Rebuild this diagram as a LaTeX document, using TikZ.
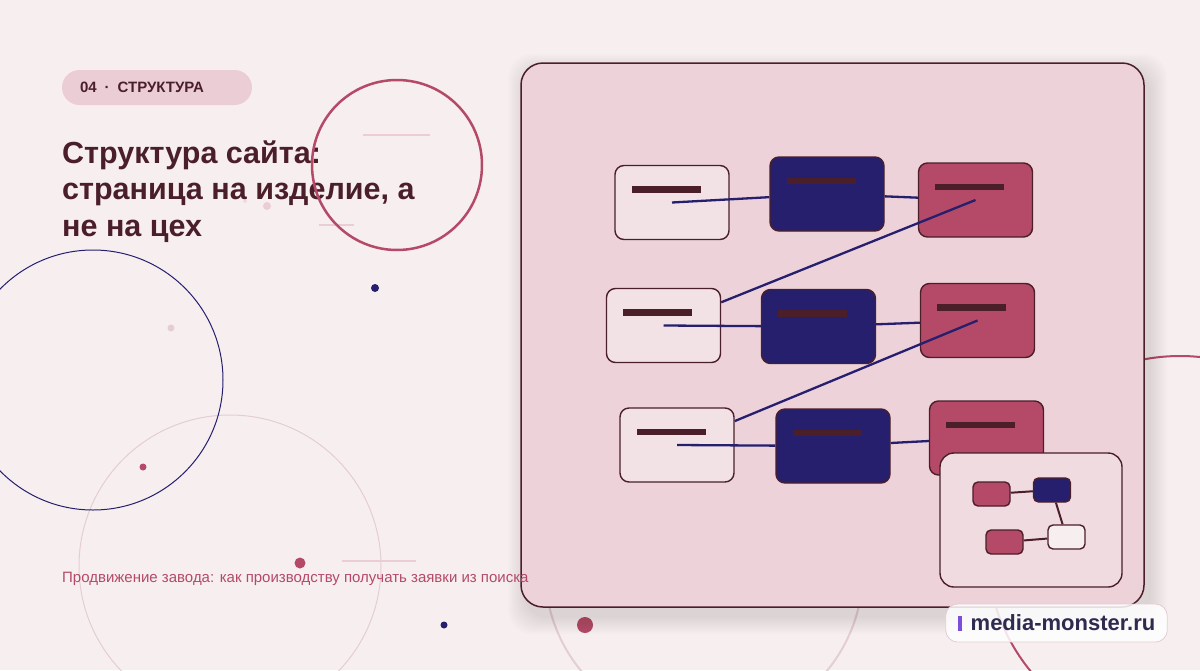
\documentclass[tikz,border=0pt]{standalone}
\usepackage{fontspec}
\setmainfont{Liberation Sans}
\usetikzlibrary{positioning,calc}
\definecolor{colorbg}     {RGB}{247,238,240}
\definecolor{colorcard}   {RGB}{237,210,218}
\definecolor{colorbadge}  {RGB}{235,205,213}
\definecolor{colordark}   {RGB}{ 74, 31, 42}
\definecolor{colornavy}   {RGB}{ 37, 31,110}
\definecolor{colorrose}   {RGB}{180, 74,104}
\definecolor{colorlight}  {RGB}{242,226,230}
\definecolor{colorminicard}{RGB}{240,219,225}
\definecolor{colorfaint}  {RGB}{228,205,212}
\definecolor{colorpurple} {RGB}{124, 77,220}
\definecolor{colorlogo}   {RGB}{ 46, 42, 80}

\begin{document}
\begin{tikzpicture}[
    x=1pt, y=-1pt,
    base/.style={rounded corners=9pt,draw=colordark,line width=1.4pt,minimum width=114pt,minimum height=74pt,inner sep=0pt},
    lightbox/.style={base,fill=colorlight},
    navybox/.style={base,fill=colornavy},
    rosebox/.style={base,fill=colorrose},
    minibox/.style={rounded corners=5pt,draw=colordark,line width=1.4pt,minimum width=37pt,minimum height=24pt,inner sep=0pt},
    card/.style={rounded corners=22pt,draw=colordark,line width=1.5pt,fill=colorcard,minimum width=623pt,minimum height=544pt},
    link/.style={colornavy,line width=2.3pt},
    minilink/.style={colordark,line width=2pt},
    txt/.style={inner sep=0pt,anchor=base west,align=left},
    badge/.style={fill=colorbadge,rounded corners=17.5pt,minimum width=190pt,minimum height=35pt,inner xsep=18pt,inner ysep=0pt,text width=154pt,align=left,text=colordark,font={\fontsize{15}{18}\selectfont\bfseries}},
    logo/.style={fill=white,fill opacity=.85,text opacity=1,draw=colorfaint,line width=.8pt,rounded corners=12pt,minimum width=219pt,minimum height=38pt,inner xsep=12pt,text=colorlogo,font={\fontsize{22}{26}\selectfont\bfseries}},
]
    \useasboundingbox (0,0) rectangle (1200,670);
    \clip (0,0) rectangle (1200,670);
    \fill[colorbg] (0,0) rectangle (1200,670);

    % background circles
    \draw[colorfaint,line width=1pt] (230,566) circle (151pt);
    \draw[colornavy,line width=1pt] (93,380) circle (130pt);
    \draw[colorfaint,line width=2pt] (704,570) circle (159pt);
    \draw[colorrose,line width=2pt] (1180,549) circle (193pt);

    % dots and short strokes
    \fill[colornavy] (375,288) circle (4pt);
    \fill[colornavy] (444,625) circle (3.5pt);
    \fill[colorfaint] (171,328) circle (3.5pt);
    \fill[colorbadge] (267,206) circle (4pt);
    \fill[colorbadge!60!colorbg] (245,201) circle (2pt);
    \fill[colorrose] (143,467) circle (3.5pt);
    \fill[colorrose] (300,563) circle (5.5pt);
    \fill[colorrose] (585,625) circle (8pt);
    \draw[colorbadge,line width=1.2pt] (363,135) -- (430,135);
    \draw[colorbadge,line width=1.2pt] (319,225) -- (354,225);
    \draw[colorbadge,line width=1.2pt] (342,561) -- (416,561);

    % texts
    \node[badge] (badge) at (157,87.5) {04\hspace{8pt}·\hspace{8pt}СТРУКТУРА};
    \node[txt,text=colordark,font={\fontsize{30.5}{36.5}\selectfont\bfseries}] (title) at (62,236)
        {Структура сайта:\\страница на изделие, а\\не на цех};
    \draw[colorrose,line width=2.5pt] (397,165) circle (85pt);

    % card with shadow
    \foreach \s in {2,4,...,18}
        \fill[black,opacity=0.011,rounded corners=24pt] (521-\s+5,63-\s+9) rectangle (1144+\s+5,607+\s+9);
    \node[card] (card) at (832.5,335) {};

    \node[txt,text=colorrose,font={\fontsize{15}{18}\selectfont}] (subtitle) at (62,582)
        {Продвижение завода: как производству получать заявки из поиска};

    \node[lightbox] (light1) at (672,202.5) {};
    \node[navybox]  (navy1)  at (827,194)   {};
    \node[rosebox]  (rose1)  at (975.5,200) {};
    \node[lightbox] (light2) at (663.5,325.5) {};
    \node[navybox]  (navy2)  at (818.5,326.5) {};
    \node[rosebox]  (rose2)  at (977.5,320.5) {};
    \node[lightbox] (light3) at (677,445)   {};
    \node[navybox]  (navy3)  at (833,446)   {};
    \node[rosebox]  (rose3)  at (986.5,438) {};

    \foreach \n in {light1,navy1,rose1,light2,navy2,rose2,light3,navy3,rose3}
        \fill[colordark] ($(\n.north west)+(17.5,21.5)$) rectangle +(69,6.5);

    \draw[link] (light1.center) -- (navy1);
    \draw[link] (navy1) -- (rose1);
    \draw[link] (rose1.center) -- (light2);
    \draw[link] (light2.center) -- (navy2);
    \draw[link] (navy2) -- (rose2);
    \draw[link] (rose2.center) -- (light3);
    \draw[link] (light3.center) -- (navy3);
    \draw[link] (navy3) -- (rose3);

    % small map
    \node[rounded corners=14pt,draw=colordark,line width=1.4pt,fill=colorminicard,minimum width=182pt,minimum height=134pt] (minicard) at (1031,520) {};
    \node[minibox,fill=colorrose]  (mini1) at (991.5,494)  {};
    \node[minibox,fill=colornavy]  (mini2) at (1052,490)   {};
    \node[minibox,fill=colorlight!60!white] (mini3) at (1066.5,537) {};
    \node[minibox,fill=colorrose]  (mini4) at (1004.5,542) {};
    \draw[minilink] (mini1) -- (mini2);
    \draw[minilink] (mini2) -- (mini3);
    \draw[minilink] (mini4) -- (mini3);

    \node[logo] (logo) at (1056.5,623) {\textcolor{colorpurple}{\rule{4pt}{15pt}}\hspace{9pt}media-monster.ru};
\end{tikzpicture}
\end{document}
